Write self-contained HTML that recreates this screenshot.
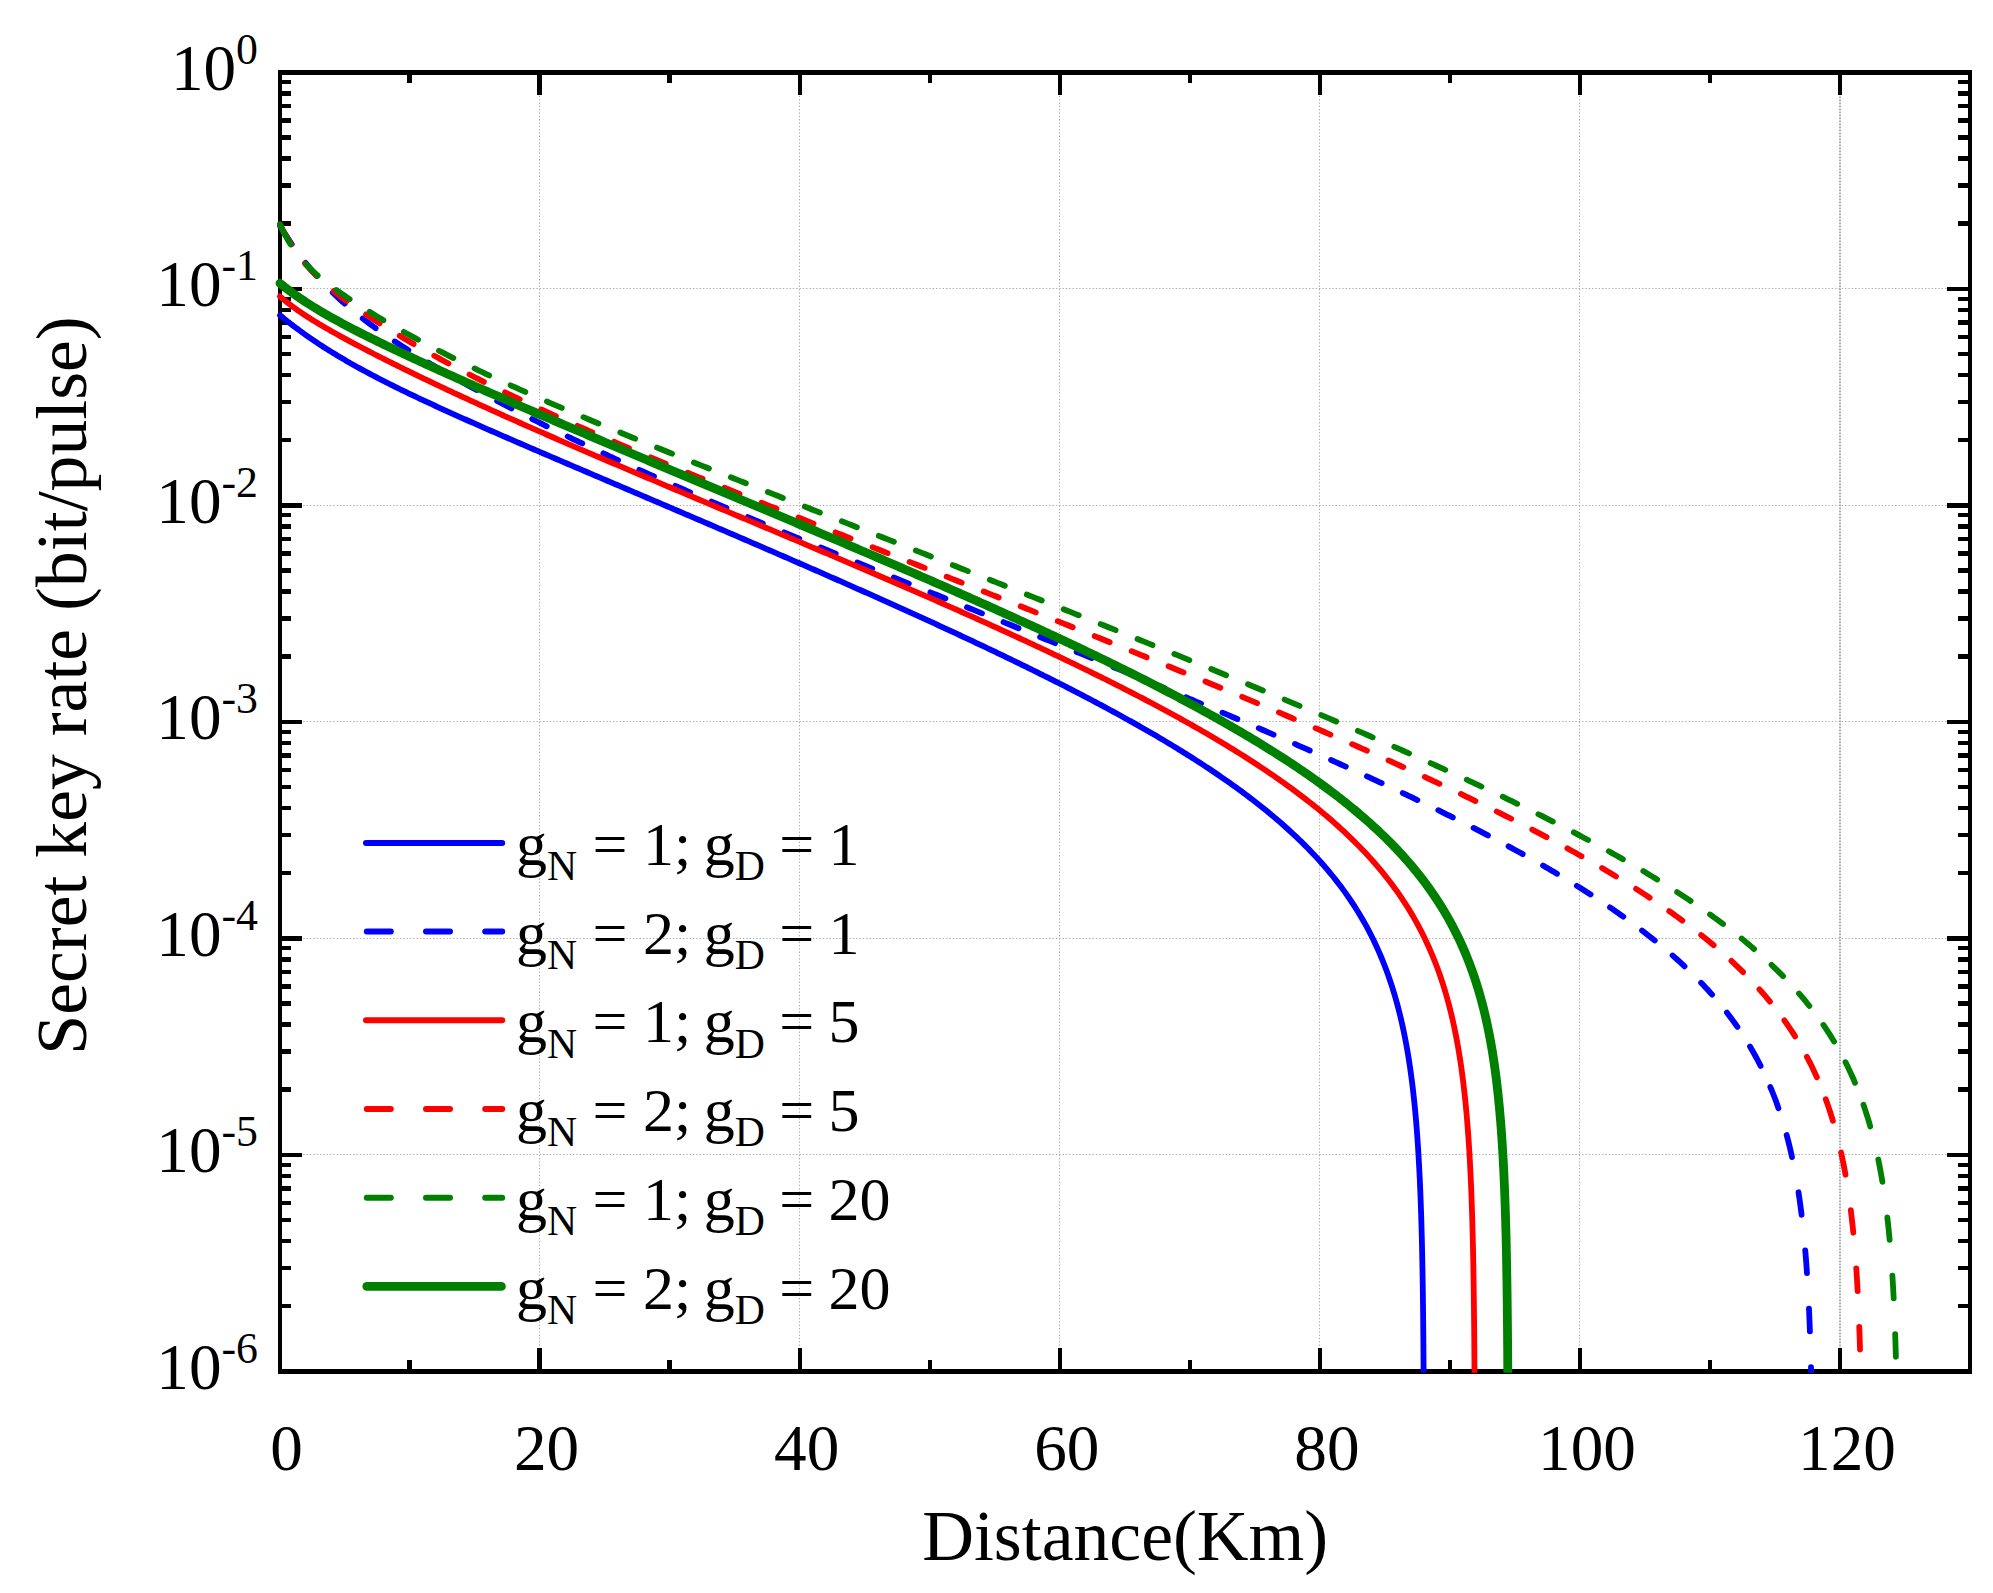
<!DOCTYPE html>
<html lang="en"><head><meta charset="utf-8"><title>Secret key rate vs distance</title>
<style>html,body{margin:0;padding:0;background:#fff}svg{display:block}</style></head>
<body>
<svg width="1993" height="1593" viewBox="0 0 1993 1593" font-family="'Liberation Serif', serif" fill="#000">
<rect width="1993" height="1593" fill="#fff"/>
<g stroke="#adadad" stroke-width="1" stroke-dasharray="1.4 1.93" fill="none">
<line x1="539.5" y1="72.45" x2="539.5" y2="1371.5"/>
<line x1="799.5" y1="72.45" x2="799.5" y2="1371.5"/>
<line x1="1059.5" y1="72.45" x2="1059.5" y2="1371.5"/>
<line x1="1319.5" y1="72.45" x2="1319.5" y2="1371.5"/>
<line x1="1579.5" y1="72.45" x2="1579.5" y2="1371.5"/>
<line x1="1840" y1="72.45" x2="1840" y2="1371.5" stroke-width="2" stroke-dasharray="1.7 1.3"/>
<line x1="280.0" y1="288.5" x2="1970.1" y2="288.5"/>
<line x1="280.0" y1="505.5" x2="1970.1" y2="505.5"/>
<line x1="280.0" y1="721.5" x2="1970.1" y2="721.5"/>
<line x1="280.0" y1="938.5" x2="1970.1" y2="938.5"/>
<line x1="280.0" y1="1154.5" x2="1970.1" y2="1154.5"/>
</g>
<rect x="280.0" y="72.45" width="1690.1" height="1299.0" fill="none" stroke="#000" stroke-width="4.3" shape-rendering="crispEdges"/>
<g stroke="#000" stroke-width="4.4" fill="none" shape-rendering="crispEdges">
<line x1="409.5" y1="1371.5" x2="409.5" y2="1359.9"/>
<line x1="409.5" y1="72.45" x2="409.5" y2="83.0"/>
<line x1="539.6" y1="1371.5" x2="539.6" y2="1348.3"/>
<line x1="539.6" y1="72.45" x2="539.6" y2="94.7"/>
<line x1="669.6" y1="1371.5" x2="669.6" y2="1359.9"/>
<line x1="669.6" y1="72.45" x2="669.6" y2="83.0"/>
<line x1="799.7" y1="1371.5" x2="799.7" y2="1348.3"/>
<line x1="799.7" y1="72.45" x2="799.7" y2="94.7"/>
<line x1="929.7" y1="1371.5" x2="929.7" y2="1359.9"/>
<line x1="929.7" y1="72.45" x2="929.7" y2="83.0"/>
<line x1="1059.8" y1="1371.5" x2="1059.8" y2="1348.3"/>
<line x1="1059.8" y1="72.45" x2="1059.8" y2="94.7"/>
<line x1="1189.8" y1="1371.5" x2="1189.8" y2="1359.9"/>
<line x1="1189.8" y1="72.45" x2="1189.8" y2="83.0"/>
<line x1="1319.9" y1="1371.5" x2="1319.9" y2="1348.3"/>
<line x1="1319.9" y1="72.45" x2="1319.9" y2="94.7"/>
<line x1="1449.9" y1="1371.5" x2="1449.9" y2="1359.9"/>
<line x1="1449.9" y1="72.45" x2="1449.9" y2="83.0"/>
<line x1="1580.0" y1="1371.5" x2="1580.0" y2="1348.3"/>
<line x1="1580.0" y1="72.45" x2="1580.0" y2="94.7"/>
<line x1="1710.0" y1="1371.5" x2="1710.0" y2="1359.9"/>
<line x1="1710.0" y1="72.45" x2="1710.0" y2="83.0"/>
<line x1="1840.0" y1="1371.5" x2="1840.0" y2="1348.3"/>
<line x1="1840.0" y1="72.45" x2="1840.0" y2="94.7"/>
<line x1="280.0" y1="223.6" x2="291.0" y2="223.6"/>
<line x1="1970.1" y1="223.6" x2="1958.1" y2="223.6"/>
<line x1="280.0" y1="185.5" x2="291.0" y2="185.5"/>
<line x1="1970.1" y1="185.5" x2="1958.1" y2="185.5"/>
<line x1="280.0" y1="158.5" x2="291.0" y2="158.5"/>
<line x1="1970.1" y1="158.5" x2="1958.1" y2="158.5"/>
<line x1="280.0" y1="137.5" x2="291.0" y2="137.5"/>
<line x1="1970.1" y1="137.5" x2="1958.1" y2="137.5"/>
<line x1="280.0" y1="120.3" x2="291.0" y2="120.3"/>
<line x1="1970.1" y1="120.3" x2="1958.1" y2="120.3"/>
<line x1="280.0" y1="105.8" x2="291.0" y2="105.8"/>
<line x1="1970.1" y1="105.8" x2="1958.1" y2="105.8"/>
<line x1="280.0" y1="93.3" x2="291.0" y2="93.3"/>
<line x1="1970.1" y1="93.3" x2="1958.1" y2="93.3"/>
<line x1="280.0" y1="82.2" x2="291.0" y2="82.2"/>
<line x1="1970.1" y1="82.2" x2="1958.1" y2="82.2"/>
<line x1="280.0" y1="288.8" x2="302.0" y2="288.8"/>
<line x1="1970.1" y1="288.8" x2="1947.3" y2="288.8"/>
<line x1="280.0" y1="440.1" x2="291.0" y2="440.1"/>
<line x1="1970.1" y1="440.1" x2="1958.1" y2="440.1"/>
<line x1="280.0" y1="402.0" x2="291.0" y2="402.0"/>
<line x1="1970.1" y1="402.0" x2="1958.1" y2="402.0"/>
<line x1="280.0" y1="375.0" x2="291.0" y2="375.0"/>
<line x1="1970.1" y1="375.0" x2="1958.1" y2="375.0"/>
<line x1="280.0" y1="354.0" x2="291.0" y2="354.0"/>
<line x1="1970.1" y1="354.0" x2="1958.1" y2="354.0"/>
<line x1="280.0" y1="336.8" x2="291.0" y2="336.8"/>
<line x1="1970.1" y1="336.8" x2="1958.1" y2="336.8"/>
<line x1="280.0" y1="322.3" x2="291.0" y2="322.3"/>
<line x1="1970.1" y1="322.3" x2="1958.1" y2="322.3"/>
<line x1="280.0" y1="309.8" x2="291.0" y2="309.8"/>
<line x1="1970.1" y1="309.8" x2="1958.1" y2="309.8"/>
<line x1="280.0" y1="298.7" x2="291.0" y2="298.7"/>
<line x1="1970.1" y1="298.7" x2="1958.1" y2="298.7"/>
<line x1="280.0" y1="505.3" x2="302.0" y2="505.3"/>
<line x1="1970.1" y1="505.3" x2="1947.3" y2="505.3"/>
<line x1="280.0" y1="656.6" x2="291.0" y2="656.6"/>
<line x1="1970.1" y1="656.6" x2="1958.1" y2="656.6"/>
<line x1="280.0" y1="618.5" x2="291.0" y2="618.5"/>
<line x1="1970.1" y1="618.5" x2="1958.1" y2="618.5"/>
<line x1="280.0" y1="591.5" x2="291.0" y2="591.5"/>
<line x1="1970.1" y1="591.5" x2="1958.1" y2="591.5"/>
<line x1="280.0" y1="570.5" x2="291.0" y2="570.5"/>
<line x1="1970.1" y1="570.5" x2="1958.1" y2="570.5"/>
<line x1="280.0" y1="553.3" x2="291.0" y2="553.3"/>
<line x1="1970.1" y1="553.3" x2="1958.1" y2="553.3"/>
<line x1="280.0" y1="538.8" x2="291.0" y2="538.8"/>
<line x1="1970.1" y1="538.8" x2="1958.1" y2="538.8"/>
<line x1="280.0" y1="526.3" x2="291.0" y2="526.3"/>
<line x1="1970.1" y1="526.3" x2="1958.1" y2="526.3"/>
<line x1="280.0" y1="515.2" x2="291.0" y2="515.2"/>
<line x1="1970.1" y1="515.2" x2="1958.1" y2="515.2"/>
<line x1="280.0" y1="721.8" x2="302.0" y2="721.8"/>
<line x1="1970.1" y1="721.8" x2="1947.3" y2="721.8"/>
<line x1="280.0" y1="873.1" x2="291.0" y2="873.1"/>
<line x1="1970.1" y1="873.1" x2="1958.1" y2="873.1"/>
<line x1="280.0" y1="835.0" x2="291.0" y2="835.0"/>
<line x1="1970.1" y1="835.0" x2="1958.1" y2="835.0"/>
<line x1="280.0" y1="808.0" x2="291.0" y2="808.0"/>
<line x1="1970.1" y1="808.0" x2="1958.1" y2="808.0"/>
<line x1="280.0" y1="787.0" x2="291.0" y2="787.0"/>
<line x1="1970.1" y1="787.0" x2="1958.1" y2="787.0"/>
<line x1="280.0" y1="769.8" x2="291.0" y2="769.8"/>
<line x1="1970.1" y1="769.8" x2="1958.1" y2="769.8"/>
<line x1="280.0" y1="755.3" x2="291.0" y2="755.3"/>
<line x1="1970.1" y1="755.3" x2="1958.1" y2="755.3"/>
<line x1="280.0" y1="742.8" x2="291.0" y2="742.8"/>
<line x1="1970.1" y1="742.8" x2="1958.1" y2="742.8"/>
<line x1="280.0" y1="731.7" x2="291.0" y2="731.7"/>
<line x1="1970.1" y1="731.7" x2="1958.1" y2="731.7"/>
<line x1="280.0" y1="938.3" x2="302.0" y2="938.3"/>
<line x1="1970.1" y1="938.3" x2="1947.3" y2="938.3"/>
<line x1="280.0" y1="1089.6" x2="291.0" y2="1089.6"/>
<line x1="1970.1" y1="1089.6" x2="1958.1" y2="1089.6"/>
<line x1="280.0" y1="1051.5" x2="291.0" y2="1051.5"/>
<line x1="1970.1" y1="1051.5" x2="1958.1" y2="1051.5"/>
<line x1="280.0" y1="1024.5" x2="291.0" y2="1024.5"/>
<line x1="1970.1" y1="1024.5" x2="1958.1" y2="1024.5"/>
<line x1="280.0" y1="1003.5" x2="291.0" y2="1003.5"/>
<line x1="1970.1" y1="1003.5" x2="1958.1" y2="1003.5"/>
<line x1="280.0" y1="986.3" x2="291.0" y2="986.3"/>
<line x1="1970.1" y1="986.3" x2="1958.1" y2="986.3"/>
<line x1="280.0" y1="971.8" x2="291.0" y2="971.8"/>
<line x1="1970.1" y1="971.8" x2="1958.1" y2="971.8"/>
<line x1="280.0" y1="959.3" x2="291.0" y2="959.3"/>
<line x1="1970.1" y1="959.3" x2="1958.1" y2="959.3"/>
<line x1="280.0" y1="948.2" x2="291.0" y2="948.2"/>
<line x1="1970.1" y1="948.2" x2="1958.1" y2="948.2"/>
<line x1="280.0" y1="1154.8" x2="302.0" y2="1154.8"/>
<line x1="1970.1" y1="1154.8" x2="1947.3" y2="1154.8"/>
<line x1="280.0" y1="1306.1" x2="291.0" y2="1306.1"/>
<line x1="1970.1" y1="1306.1" x2="1958.1" y2="1306.1"/>
<line x1="280.0" y1="1268.0" x2="291.0" y2="1268.0"/>
<line x1="1970.1" y1="1268.0" x2="1958.1" y2="1268.0"/>
<line x1="280.0" y1="1241.0" x2="291.0" y2="1241.0"/>
<line x1="1970.1" y1="1241.0" x2="1958.1" y2="1241.0"/>
<line x1="280.0" y1="1220.0" x2="291.0" y2="1220.0"/>
<line x1="1970.1" y1="1220.0" x2="1958.1" y2="1220.0"/>
<line x1="280.0" y1="1202.8" x2="291.0" y2="1202.8"/>
<line x1="1970.1" y1="1202.8" x2="1958.1" y2="1202.8"/>
<line x1="280.0" y1="1188.3" x2="291.0" y2="1188.3"/>
<line x1="1970.1" y1="1188.3" x2="1958.1" y2="1188.3"/>
<line x1="280.0" y1="1175.8" x2="291.0" y2="1175.8"/>
<line x1="1970.1" y1="1175.8" x2="1958.1" y2="1175.8"/>
<line x1="280.0" y1="1164.7" x2="291.0" y2="1164.7"/>
<line x1="1970.1" y1="1164.7" x2="1958.1" y2="1164.7"/>
</g>
<g font-size="65.2" text-anchor="middle">
<text x="286.5" y="1469.5">0</text>
<text x="546.6" y="1469.5">20</text>
<text x="806.7" y="1469.5">40</text>
<text x="1066.8" y="1469.5">60</text>
<text x="1326.9" y="1469.5">80</text>
<text x="1587.0" y="1469.5">100</text>
<text x="1847.0" y="1469.5">120</text>
</g>
<g font-size="65.2" text-anchor="end">
<text x="258" y="89.8">10<tspan font-size="43.8" dy="-26">0</tspan></text>
<text x="258" y="306.3">10<tspan font-size="43.8" dy="-26">-1</tspan></text>
<text x="258" y="522.8">10<tspan font-size="43.8" dy="-26">-2</tspan></text>
<text x="258" y="739.3">10<tspan font-size="43.8" dy="-26">-3</tspan></text>
<text x="258" y="955.8">10<tspan font-size="43.8" dy="-26">-4</tspan></text>
<text x="258" y="1172.3">10<tspan font-size="43.8" dy="-26">-5</tspan></text>
<text x="258" y="1388.8">10<tspan font-size="43.8" dy="-26">-6</tspan></text>
</g>
<text x="1125.2" y="1560.2" font-size="71.7" text-anchor="middle">Distance(Km)</text>
<text transform="translate(85.6,685.5) rotate(-90)" font-size="71.7" text-anchor="middle">Secret key rate (bit/pulse)</text>
<clipPath id="cp"><rect x="274.0" y="72.45" width="1696.1" height="1300.2"/></clipPath>
<g fill="none" stroke-linecap="round" stroke-linejoin="round" clip-path="url(#cp)">
<path d="M280.00,315.30 L282.21,317.11 L284.43,318.90 L286.64,320.67 L288.86,322.41 L291.07,324.13 L293.29,325.83 L295.50,327.50 L297.72,329.15 L299.93,330.78 L302.15,332.39 L304.36,333.98 L306.58,335.55 L308.79,337.10 L311.01,338.63 L313.22,340.14 L315.44,341.64 L317.65,343.11 L319.87,344.57 L322.08,346.01 L324.30,347.44 L326.51,348.85 L328.72,350.24 L330.94,351.63 L333.15,352.99 L335.37,354.34 L337.58,355.68 L339.80,357.00 L342.01,358.32 L344.23,359.62 L346.44,360.90 L348.66,362.18 L350.87,363.44 L353.09,364.69 L355.30,365.94 L357.52,367.17 L359.73,368.39 L361.95,369.60 L364.16,370.80 L366.38,372.00 L368.59,373.18 L370.81,374.36 L373.02,375.52 L375.23,376.68 L377.45,377.84 L379.66,378.98 L381.88,380.12 L384.09,381.25 L386.31,382.37 L388.52,383.49 L390.74,384.60 L392.95,385.70 L395.17,386.80 L397.38,387.89 L399.60,388.98 L401.81,390.06 L404.03,391.14 L406.24,392.21 L408.46,393.27 L410.67,394.34 L412.89,395.39 L415.10,396.45 L417.31,397.50 L419.53,398.54 L421.74,399.58 L423.96,400.62 L426.17,401.65 L428.39,402.68 L430.60,403.71 L432.82,404.73 L435.03,405.75 L437.25,406.77 L439.46,407.79 L441.68,408.80 L443.89,409.81 L446.11,410.81 L448.32,411.82 L450.54,412.82 L452.75,413.82 L454.97,414.81 L457.18,415.81 L459.40,416.80 L461.61,417.79 L463.82,418.78 L466.04,419.77 L468.25,420.75 L470.47,421.73 L472.68,422.71 L474.90,423.69 L477.11,424.67 L479.33,425.65 L481.54,426.62 L483.76,427.60 L485.97,428.57 L488.19,429.54 L490.40,430.51 L492.62,431.48 L494.83,432.45 L497.05,433.42 L499.26,434.38 L501.48,435.35 L503.69,436.31 L505.91,437.27 L508.12,438.23 L510.33,439.19 L512.55,440.15 L514.76,441.11 L516.98,442.07 L519.19,443.03 L521.41,443.99 L523.62,444.94 L525.84,445.90 L528.05,446.85 L530.27,447.81 L532.48,448.76 L534.70,449.71 L536.91,450.67 L539.13,451.62 L541.34,452.57 L543.56,453.52 L545.77,454.47 L547.99,455.42 L550.20,456.37 L552.42,457.32 L554.63,458.27 L556.84,459.22 L559.06,460.17 L561.27,461.12 L563.49,462.06 L565.70,463.01 L567.92,463.96 L570.13,464.91 L572.35,465.85 L574.56,466.80 L576.78,467.74 L578.99,468.69 L581.21,469.64 L583.42,470.58 L585.64,471.53 L587.85,472.47 L590.07,473.42 L592.28,474.36 L594.50,475.31 L596.71,476.25 L598.92,477.20 L601.14,478.14 L603.35,479.09 L605.57,480.03 L607.78,480.98 L610.00,481.92 L612.21,482.87 L614.43,483.81 L616.64,484.75 L618.86,485.70 L621.07,486.64 L623.29,487.59 L625.50,488.53 L627.72,489.48 L629.93,490.42 L632.15,491.37 L634.36,492.31 L636.58,493.25 L638.79,494.20 L641.01,495.14 L643.22,496.09 L645.43,497.03 L647.65,497.98 L649.86,498.92 L652.08,499.87 L654.29,500.81 L656.51,501.76 L658.72,502.70 L660.94,503.65 L663.15,504.59 L665.37,505.54 L667.58,506.49 L669.80,507.43 L672.01,508.38 L674.23,509.32 L676.44,510.27 L678.66,511.22 L680.87,512.16 L683.09,513.11 L685.30,514.06 L687.52,515.01 L689.73,515.95 L691.94,516.90 L694.16,517.85 L696.37,518.80 L698.59,519.75 L700.80,520.70 L703.02,521.64 L705.23,522.59 L707.45,523.54 L709.66,524.49 L711.88,525.44 L714.09,526.39 L716.31,527.34 L718.52,528.29 L720.74,529.24 L722.95,530.20 L725.17,531.15 L727.38,532.10 L729.60,533.05 L731.81,534.00 L734.03,534.96 L736.24,535.91 L738.45,536.86 L740.67,537.82 L742.88,538.77 L745.10,539.73 L747.31,540.68 L749.53,541.64 L751.74,542.59 L753.96,543.55 L756.17,544.50 L758.39,545.46 L760.60,546.42 L762.82,547.37 L765.03,548.33 L767.25,549.29 L769.46,550.25 L771.68,551.21 L773.89,552.17 L776.11,553.13 L778.32,554.09 L780.54,555.05 L782.75,556.01 L784.96,556.97 L787.18,557.94 L789.39,558.90 L791.61,559.86 L793.82,560.83 L796.04,561.79 L798.25,562.76 L800.47,563.72 L802.68,564.69 L804.90,565.65 L807.11,566.62 L809.33,567.59 L811.54,568.56 L813.76,569.53 L815.97,570.49 L818.19,571.46 L820.40,572.44 L822.62,573.41 L824.83,574.38 L827.04,575.35 L829.26,576.32 L831.47,577.30 L833.69,578.27 L835.90,579.25 L838.12,580.22 L840.33,581.20 L842.55,582.18 L844.76,583.15 L846.98,584.13 L849.19,585.11 L851.41,586.09 L853.62,587.07 L855.84,588.05 L858.05,589.03 L860.27,590.02 L862.48,591.00 L864.70,591.99 L866.91,592.97 L869.13,593.96 L871.34,594.94 L873.55,595.93 L875.77,596.92 L877.98,597.91 L880.20,598.90 L882.41,599.89 L884.63,600.88 L886.84,601.88 L889.06,602.87 L891.27,603.87 L893.49,604.86 L895.70,605.86 L897.92,606.86 L900.13,607.86 L902.35,608.86 L904.56,609.86 L906.78,610.86 L908.99,611.86 L911.21,612.87 L913.42,613.87 L915.64,614.88 L917.85,615.88 L920.06,616.89 L922.28,617.90 L924.49,618.91 L926.71,619.92 L928.92,620.94 L931.14,621.95 L933.35,622.97 L935.57,623.98 L937.78,625.00 L940.00,626.02 L942.21,627.04 L944.43,628.06 L946.64,629.09 L948.86,630.11 L951.07,631.14 L953.29,632.16 L955.50,633.19 L957.72,634.22 L959.93,635.25 L962.15,636.29 L964.36,637.32 L966.57,638.36 L968.79,639.39 L971.00,640.43 L973.22,641.47 L975.43,642.52 L977.65,643.56 L979.86,644.60 L982.08,645.65 L984.29,646.70 L986.51,647.75 L988.72,648.80 L990.94,649.85 L993.15,650.91 L995.37,651.97 L997.58,653.03 L999.80,654.09 L1002.01,655.15 L1004.23,656.21 L1006.44,657.28 L1008.65,658.35 L1010.87,659.42 L1013.08,660.49 L1015.30,661.57 L1017.51,662.64 L1019.73,663.72 L1021.94,664.80 L1024.16,665.89 L1026.37,666.97 L1028.59,668.06 L1030.80,669.15 L1033.02,670.24 L1035.23,671.33 L1037.45,672.43 L1039.66,673.53 L1041.88,674.63 L1044.09,675.73 L1046.31,676.84 L1048.52,677.95 L1050.74,679.06 L1052.95,680.17 L1055.16,681.29 L1057.38,682.41 L1059.59,683.53 L1061.81,684.65 L1064.02,685.78 L1066.24,686.91 L1068.45,688.05 L1070.67,689.18 L1072.88,690.32 L1075.10,691.46 L1077.31,692.61 L1079.53,693.76 L1081.74,694.91 L1083.96,696.06 L1086.17,697.22 L1088.39,698.38 L1090.60,699.55 L1092.82,700.71 L1095.03,701.89 L1097.25,703.06 L1099.46,704.24 L1101.67,705.42 L1103.89,706.61 L1106.10,707.80 L1108.32,708.99 L1110.53,710.19 L1112.75,711.39 L1114.96,712.60 L1117.18,713.81 L1119.39,715.02 L1121.61,716.24 L1123.82,717.46 L1126.04,718.69 L1128.25,719.92 L1130.47,721.15 L1132.68,722.39 L1134.90,723.64 L1137.11,724.89 L1139.33,726.14 L1141.54,727.40 L1143.76,728.67 L1145.97,729.94 L1148.18,731.21 L1150.40,732.49 L1152.61,733.78 L1154.83,735.07 L1157.04,736.37 L1159.26,737.67 L1161.47,738.98 L1163.69,740.30 L1165.90,741.62 L1168.12,742.94 L1170.33,744.28 L1172.55,745.62 L1174.76,746.96 L1176.98,748.32 L1179.19,749.68 L1181.41,751.04 L1183.62,752.42 L1185.84,753.80 L1188.05,755.19 L1190.27,756.58 L1192.48,757.99 L1194.69,759.40 L1196.91,760.82 L1199.12,762.24 L1201.34,763.68 L1203.55,765.13 L1205.77,766.58 L1207.98,768.04 L1210.20,769.51 L1212.41,770.99 L1214.63,772.48 L1216.84,773.98 L1219.06,775.49 L1221.27,777.02 L1223.49,778.55 L1225.70,780.09 L1227.92,781.64 L1230.13,783.20 L1232.35,784.78 L1234.56,786.37 L1236.77,787.97 L1238.99,789.58 L1241.20,791.20 L1243.42,792.84 L1245.63,794.49 L1247.85,796.16 L1250.06,797.83 L1252.28,799.53 L1254.49,801.24 L1256.71,802.96 L1258.92,804.70 L1261.14,806.45 L1263.35,808.23 L1265.57,810.01 L1267.78,811.82 L1270.00,813.65 L1272.21,815.49 L1274.43,817.35 L1276.64,819.23 L1278.86,821.14 L1281.07,823.06 L1283.28,825.01 L1285.50,826.98 L1287.71,828.97 L1289.93,830.98 L1292.14,833.02 L1294.36,835.09 L1296.57,837.18 L1298.79,839.30 L1301.00,841.45 L1303.22,843.63 L1305.43,845.84 L1307.65,848.08 L1309.86,850.36 L1312.08,852.67 L1314.29,855.01 L1316.51,857.39 L1318.72,859.82 L1320.94,862.28 L1323.15,864.78 L1325.37,867.33 L1327.58,869.93 L1329.79,872.57 L1332.01,875.27 L1334.22,878.02 L1336.44,880.83 L1338.65,883.69 L1340.87,886.62 L1343.08,889.61 L1345.30,892.67 L1347.51,895.81 L1349.73,899.02 L1351.94,902.32 L1354.16,905.70 L1356.37,909.18 L1358.59,912.76 L1360.80,916.44 L1363.02,920.24 L1365.23,924.16 L1367.45,928.21 L1369.66,932.41 L1371.88,936.76 L1374.09,941.27 L1376.30,945.97 L1378.52,950.88 L1380.73,956.00 L1382.95,961.37 L1385.16,967.00 L1385.16,967.00 L1386.58,970.76 L1387.94,974.50 L1389.25,978.23 L1390.52,981.96 L1391.74,985.67 L1392.91,989.38 L1394.04,993.07 L1395.14,996.76 L1396.19,1000.44 L1397.20,1004.11 L1398.18,1007.78 L1399.12,1011.43 L1400.03,1015.08 L1400.90,1018.73 L1401.75,1022.36 L1402.56,1026.00 L1403.34,1029.62 L1404.10,1033.24 L1404.82,1036.85 L1405.52,1040.46 L1406.20,1044.07 L1406.85,1047.66 L1407.48,1051.26 L1408.08,1054.85 L1408.67,1058.43 L1409.23,1062.01 L1409.77,1065.59 L1410.29,1069.16 L1410.79,1072.73 L1411.28,1076.30 L1411.75,1079.86 L1412.20,1083.42 L1412.63,1086.97 L1413.05,1090.52 L1413.45,1094.07 L1413.84,1097.62 L1414.21,1101.16 L1414.57,1104.70 L1414.92,1108.24 L1415.26,1111.77 L1415.58,1115.31 L1415.89,1118.84 L1416.19,1122.37 L1416.48,1125.89 L1416.76,1129.42 L1417.03,1132.94 L1417.28,1136.46 L1417.53,1139.98 L1417.77,1143.49 L1418.01,1147.01 L1418.23,1150.52 L1418.44,1154.03 L1418.65,1157.54 L1418.85,1161.05 L1419.04,1164.56 L1419.23,1168.07 L1419.41,1171.57 L1419.58,1175.07 L1419.75,1178.58 L1419.91,1182.08 L1420.06,1185.58 L1420.21,1189.07 L1420.35,1192.57 L1420.49,1196.07 L1420.62,1199.56 L1420.75,1203.06 L1420.88,1206.55 L1420.99,1210.04 L1421.11,1213.54 L1421.22,1217.03 L1421.33,1220.52 L1421.43,1224.01 L1421.53,1227.50 L1421.62,1230.98 L1421.72,1234.47 L1421.81,1237.96 L1421.89,1241.44 L1421.97,1244.93 L1422.05,1248.41 L1422.13,1251.90 L1422.20,1255.38 L1422.27,1258.87 L1422.34,1262.35 L1422.41,1265.83 L1422.47,1269.31 L1422.53,1272.79 L1422.59,1276.28 L1422.65,1279.76 L1422.70,1283.24 L1422.76,1286.72 L1422.81,1290.19 L1422.86,1293.67 L1422.90,1297.15 L1422.95,1300.63 L1422.99,1304.11 L1423.04,1307.59 L1423.08,1311.06 L1423.12,1314.54 L1423.15,1318.02 L1423.19,1321.49 L1423.23,1324.97 L1423.26,1328.45 L1423.29,1331.92 L1423.32,1335.40 L1423.36,1338.87 L1423.38,1342.35 L1423.41,1345.82 L1423.44,1349.30 L1423.47,1352.77 L1423.49,1356.25 L1423.52,1359.72 L1423.54,1363.19 L1423.56,1366.67 L1423.58,1370.14 L1423.60,1373.62 L1423.62,1377.09 L1423.64,1380.56 L1423.66,1384.03 L1423.68,1387.51 L1423.70,1390.98 L1423.72,1394.45 L1423.73,1397.93 L1423.75,1401.40" stroke="#0000ff" stroke-width="5.8"/>
<path d="M280.00,225.90 L281.62,228.53 L283.25,231.16 L284.91,233.77 L286.58,236.37 L288.27,238.95 L289.99,241.52 L291.73,244.08 M305.57,262.80 L307.72,265.48 L309.90,268.14 L312.12,270.76 L314.36,273.37 L316.63,275.95 M332.77,292.73 L335.11,294.97 L337.47,297.18 L339.86,299.38 L342.27,301.55 L344.69,303.69 M362.67,318.49 L365.24,320.46 L367.82,322.42 L370.41,324.36 L373.02,326.29 L375.64,328.19 M394.79,341.44 L397.49,343.22 L400.20,345.00 L402.92,346.76 L405.64,348.52 L408.38,350.26 M428.20,362.47 L430.98,364.13 L433.77,365.79 L436.56,367.43 L439.35,369.07 L442.15,370.70 M462.39,382.22 L465.22,383.79 L468.06,385.36 L470.90,386.92 L473.74,388.48 L476.58,390.03 M497.11,401.02 L499.98,402.53 L502.85,404.03 L505.72,405.53 L508.60,407.02 L511.47,408.51 M532.22,419.08 L535.12,420.53 L538.02,421.98 L540.92,423.42 L543.82,424.86 L546.73,426.30 M567.66,436.50 L570.58,437.91 L573.50,439.31 L576.42,440.70 L579.35,442.10 L582.27,443.49 M603.35,453.39 L606.29,454.75 L609.23,456.11 L612.17,457.47 L615.11,458.82 L618.06,460.18 M639.25,469.82 L642.21,471.15 L645.16,472.47 L648.12,473.80 L651.08,475.12 L654.04,476.44 M675.33,485.86 L678.30,487.17 L681.26,488.47 L684.23,489.76 L687.20,491.06 L690.17,492.36 M711.54,501.60 L714.52,502.88 L717.50,504.16 L720.47,505.43 L723.45,506.71 L726.43,507.98 M747.86,517.09 L750.85,518.35 L753.83,519.61 L756.82,520.86 L759.81,522.12 L762.79,523.38 M784.27,532.37 L787.26,533.62 L790.25,534.86 L793.24,536.11 L796.23,537.35 L799.23,538.60 M820.74,547.50 L823.74,548.74 L826.73,549.98 L829.73,551.21 L832.72,552.44 L835.72,553.68 M857.26,562.52 L860.26,563.75 L863.25,564.98 L866.25,566.21 L869.25,567.44 L872.25,568.66 M893.81,577.47 L896.81,578.69 L899.81,579.91 L902.81,581.14 L905.81,582.36 L908.81,583.58 M930.37,592.36 L933.38,593.58 L936.38,594.80 L939.38,596.02 L942.38,597.24 L945.38,598.46 M966.95,607.23 L969.95,608.45 L972.95,609.67 L975.96,610.89 L978.96,612.11 L981.96,613.33 M1003.53,622.10 L1006.53,623.33 L1009.53,624.55 L1012.53,625.77 L1015.53,626.99 L1018.53,628.21 M1040.09,637.00 L1043.09,638.23 L1046.09,639.45 L1049.09,640.68 L1052.09,641.90 L1055.09,643.13 M1076.64,651.95 L1079.64,653.18 L1082.64,654.41 L1085.63,655.64 L1088.63,656.87 L1091.63,658.10 M1113.16,666.96 L1116.16,668.20 L1119.15,669.43 L1122.15,670.67 L1125.14,671.91 L1128.13,673.15 M1149.64,682.07 L1152.63,683.31 L1155.62,684.56 L1158.62,685.80 L1161.61,687.05 L1164.60,688.30 M1186.07,697.29 L1189.06,698.55 L1192.05,699.80 L1195.03,701.06 L1198.02,702.32 L1201.00,703.58 M1222.44,712.66 L1225.43,713.93 L1228.41,715.20 L1231.39,716.47 L1234.37,717.74 L1237.35,719.02 M1258.74,728.21 L1261.71,729.49 L1264.69,730.78 L1267.66,732.07 L1270.63,733.36 L1273.61,734.65 M1294.94,743.97 L1297.91,745.28 L1300.87,746.58 L1303.84,747.89 L1306.80,749.20 L1309.76,750.51 M1331.03,760.00 L1333.99,761.32 L1336.94,762.65 L1339.89,763.99 L1342.85,765.32 L1345.80,766.66 M1366.98,776.33 L1369.92,777.69 L1372.86,779.05 L1375.80,780.41 L1378.74,781.77 L1381.68,783.14 M1402.75,793.05 L1405.68,794.44 L1408.60,795.83 L1411.52,797.23 L1414.45,798.63 L1417.37,800.03 M1438.30,810.22 L1441.21,811.65 L1444.11,813.09 L1447.02,814.53 L1449.92,815.97 L1452.82,817.42 M1473.59,827.95 L1476.47,829.43 L1479.34,830.92 L1482.22,832.41 L1485.09,833.91 L1487.96,835.41 M1508.52,846.35 L1511.37,847.90 L1514.21,849.45 L1517.05,851.00 L1519.89,852.56 L1522.73,854.13 M1543.00,865.59 L1545.80,867.21 L1548.61,868.84 L1551.40,870.47 L1554.20,872.11 L1556.98,873.76 M1576.89,885.84 L1579.64,887.56 L1582.38,889.28 L1585.12,891.02 L1587.85,892.76 L1590.58,894.51 M1609.99,907.37 L1612.66,909.20 L1615.33,911.04 L1617.98,912.89 L1620.63,914.76 L1623.28,916.63 M1642.02,930.45 L1644.58,932.43 L1647.14,934.42 L1649.69,936.42 L1652.23,938.43 L1654.76,940.45 M1672.57,955.45 L1675.00,957.60 L1677.41,959.76 L1679.81,961.94 L1682.19,964.13 L1684.56,966.34 M1701.10,982.73 L1703.33,985.07 L1705.55,987.44 L1707.74,989.83 L1709.91,992.23 L1712.06,994.65 M1726.90,1012.59 L1729.07,1015.41 L1731.20,1018.26 L1733.30,1021.13 L1735.38,1024.01 L1737.42,1026.92 M1750.01,1046.51 L1751.60,1049.23 L1753.18,1051.96 L1754.71,1054.72 L1756.24,1057.48 L1757.71,1060.26 L1759.19,1063.05 L1760.61,1065.87 M1770.35,1087.01 L1771.61,1090.00 L1772.80,1093.01 L1774.00,1096.03 L1775.16,1099.06 L1776.29,1102.10 L1777.39,1105.15 L1778.47,1108.20 M1786.67,1135.02 L1787.50,1138.15 L1788.31,1141.29 L1789.10,1144.44 L1789.86,1147.59 L1790.60,1150.75 L1791.32,1153.91 L1792.02,1157.07 M1798.50,1192.28 L1798.98,1195.48 L1799.45,1198.69 L1799.90,1201.90 L1800.35,1205.12 L1800.77,1208.33 L1801.19,1211.55 L1801.59,1214.77 M1805.24,1250.38 L1805.52,1253.61 L1805.78,1256.84 L1806.03,1260.07 L1806.28,1263.31 L1806.51,1266.54 L1806.74,1269.78 L1806.96,1273.01 M1808.98,1308.75 L1809.12,1311.99 L1809.27,1315.23 L1809.40,1318.47 L1809.54,1321.71 L1809.67,1324.95 L1809.79,1328.19 L1809.91,1331.43 M1811.01,1367.22 L1811.09,1370.46 L1811.16,1373.70 L1811.24,1376.94 L1811.31,1380.19 L1811.38,1383.43 L1811.45,1386.67 L1811.51,1389.91" stroke="#0000ff" stroke-width="5.8"/>
<path d="M280.00,296.43 L282.32,298.43 L284.63,300.36 L286.95,302.23 L289.27,304.04 L291.58,305.80 L293.90,307.51 L296.22,309.18 L298.53,310.81 L300.85,312.41 L303.17,313.97 L305.48,315.50 L307.80,317.00 L310.12,318.47 L312.43,319.93 L314.75,321.36 L317.07,322.77 L319.38,324.17 L321.70,325.54 L324.02,326.91 L326.33,328.25 L328.65,329.59 L330.97,330.91 L333.28,332.22 L335.60,333.52 L337.92,334.81 L340.24,336.09 L342.55,337.36 L344.87,338.62 L347.19,339.88 L349.50,341.13 L351.82,342.37 L354.14,343.60 L356.45,344.83 L358.77,346.05 L361.09,347.27 L363.40,348.48 L365.72,349.69 L368.04,350.89 L370.35,352.09 L372.67,353.28 L374.99,354.46 L377.30,355.65 L379.62,356.82 L381.94,358.00 L384.25,359.17 L386.57,360.33 L388.89,361.50 L391.20,362.65 L393.52,363.81 L395.84,364.96 L398.15,366.11 L400.47,367.25 L402.79,368.39 L405.10,369.53 L407.42,370.67 L409.74,371.80 L412.05,372.93 L414.37,374.05 L416.69,375.17 L419.00,376.29 L421.32,377.41 L423.64,378.52 L425.95,379.64 L428.27,380.74 L430.59,381.85 L432.90,382.95 L435.22,384.05 L437.54,385.15 L439.85,386.25 L442.17,387.34 L444.49,388.43 L446.80,389.52 L449.12,390.60 L451.44,391.69 L453.76,392.77 L456.07,393.85 L458.39,394.92 L460.71,396.00 L463.02,397.07 L465.34,398.14 L467.66,399.21 L469.97,400.27 L472.29,401.34 L474.61,402.40 L476.92,403.46 L479.24,404.52 L481.56,405.57 L483.87,406.63 L486.19,407.68 L488.51,408.73 L490.82,409.78 L493.14,410.83 L495.46,411.87 L497.77,412.92 L500.09,413.96 L502.41,415.00 L504.72,416.04 L507.04,417.07 L509.36,418.11 L511.67,419.14 L513.99,420.18 L516.31,421.21 L518.62,422.24 L520.94,423.26 L523.26,424.29 L525.57,425.32 L527.89,426.34 L530.21,427.36 L532.52,428.38 L534.84,429.40 L537.16,430.42 L539.47,431.44 L541.79,432.45 L544.11,433.47 L546.42,434.48 L548.74,435.50 L551.06,436.51 L553.37,437.52 L555.69,438.53 L558.01,439.54 L560.32,440.54 L562.64,441.55 L564.96,442.55 L567.28,443.56 L569.59,444.56 L571.91,445.56 L574.23,446.56 L576.54,447.56 L578.86,448.56 L581.18,449.56 L583.49,450.56 L585.81,451.56 L588.13,452.55 L590.44,453.55 L592.76,454.54 L595.08,455.54 L597.39,456.53 L599.71,457.52 L602.03,458.51 L604.34,459.50 L606.66,460.49 L608.98,461.48 L611.29,462.47 L613.61,463.46 L615.93,464.45 L618.24,465.43 L620.56,466.42 L622.88,467.41 L625.19,468.39 L627.51,469.38 L629.83,470.36 L632.14,471.34 L634.46,472.33 L636.78,473.31 L639.09,474.29 L641.41,475.27 L643.73,476.25 L646.04,477.23 L648.36,478.22 L650.68,479.20 L652.99,480.17 L655.31,481.15 L657.63,482.13 L659.94,483.11 L662.26,484.09 L664.58,485.07 L666.89,486.05 L669.21,487.02 L671.53,488.00 L673.84,488.98 L676.16,489.95 L678.48,490.93 L680.80,491.91 L683.11,492.88 L685.43,493.86 L687.75,494.83 L690.06,495.81 L692.38,496.78 L694.70,497.76 L697.01,498.73 L699.33,499.71 L701.65,500.68 L703.96,501.66 L706.28,502.63 L708.60,503.61 L710.91,504.58 L713.23,505.55 L715.55,506.53 L717.86,507.50 L720.18,508.48 L722.50,509.45 L724.81,510.43 L727.13,511.40 L729.45,512.37 L731.76,513.35 L734.08,514.32 L736.40,515.30 L738.71,516.27 L741.03,517.25 L743.35,518.22 L745.66,519.19 L747.98,520.17 L750.30,521.14 L752.61,522.12 L754.93,523.09 L757.25,524.07 L759.56,525.05 L761.88,526.02 L764.20,527.00 L766.51,527.97 L768.83,528.95 L771.15,529.92 L773.46,530.90 L775.78,531.88 L778.10,532.86 L780.41,533.83 L782.73,534.81 L785.05,535.79 L787.36,536.77 L789.68,537.74 L792.00,538.72 L794.32,539.70 L796.63,540.68 L798.95,541.66 L801.27,542.64 L803.58,543.62 L805.90,544.60 L808.22,545.58 L810.53,546.57 L812.85,547.55 L815.17,548.53 L817.48,549.51 L819.80,550.50 L822.12,551.48 L824.43,552.46 L826.75,553.45 L829.07,554.43 L831.38,555.42 L833.70,556.40 L836.02,557.39 L838.33,558.38 L840.65,559.37 L842.97,560.35 L845.28,561.34 L847.60,562.33 L849.92,563.32 L852.23,564.31 L854.55,565.30 L856.87,566.29 L859.18,567.29 L861.50,568.28 L863.82,569.27 L866.13,570.27 L868.45,571.26 L870.77,572.26 L873.08,573.25 L875.40,574.25 L877.72,575.25 L880.03,576.25 L882.35,577.25 L884.67,578.24 L886.98,579.25 L889.30,580.25 L891.62,581.25 L893.93,582.25 L896.25,583.26 L898.57,584.26 L900.88,585.27 L903.20,586.27 L905.52,587.28 L907.84,588.29 L910.15,589.30 L912.47,590.30 L914.79,591.32 L917.10,592.33 L919.42,593.34 L921.74,594.35 L924.05,595.37 L926.37,596.38 L928.69,597.40 L931.00,598.42 L933.32,599.44 L935.64,600.45 L937.95,601.48 L940.27,602.50 L942.59,603.52 L944.90,604.54 L947.22,605.57 L949.54,606.59 L951.85,607.62 L954.17,608.65 L956.49,609.68 L958.80,610.71 L961.12,611.74 L963.44,612.78 L965.75,613.81 L968.07,614.85 L970.39,615.88 L972.70,616.92 L975.02,617.96 L977.34,619.00 L979.65,620.05 L981.97,621.09 L984.29,622.14 L986.60,623.18 L988.92,624.23 L991.24,625.28 L993.55,626.33 L995.87,627.38 L998.19,628.44 L1000.50,629.49 L1002.82,630.55 L1005.14,631.61 L1007.45,632.67 L1009.77,633.73 L1012.09,634.80 L1014.41,635.86 L1016.72,636.93 L1019.04,638.00 L1021.36,639.07 L1023.67,640.14 L1025.99,641.22 L1028.31,642.29 L1030.62,643.37 L1032.94,644.45 L1035.26,645.53 L1037.57,646.62 L1039.89,647.70 L1042.21,648.79 L1044.52,649.88 L1046.84,650.97 L1049.16,652.06 L1051.47,653.16 L1053.79,654.26 L1056.11,655.36 L1058.42,656.46 L1060.74,657.57 L1063.06,658.67 L1065.37,659.78 L1067.69,660.89 L1070.01,662.01 L1072.32,663.13 L1074.64,664.24 L1076.96,665.37 L1079.27,666.49 L1081.59,667.62 L1083.91,668.74 L1086.22,669.88 L1088.54,671.01 L1090.86,672.15 L1093.17,673.29 L1095.49,674.43 L1097.81,675.57 L1100.12,676.72 L1102.44,677.87 L1104.76,679.03 L1107.07,680.19 L1109.39,681.35 L1111.71,682.51 L1114.02,683.67 L1116.34,684.84 L1118.66,686.02 L1120.97,687.19 L1123.29,688.37 L1125.61,689.55 L1127.93,690.74 L1130.24,691.93 L1132.56,693.12 L1134.88,694.32 L1137.19,695.52 L1139.51,696.73 L1141.83,697.93 L1144.14,699.15 L1146.46,700.36 L1148.78,701.58 L1151.09,702.81 L1153.41,704.03 L1155.73,705.27 L1158.04,706.50 L1160.36,707.74 L1162.68,708.99 L1164.99,710.24 L1167.31,711.49 L1169.63,712.75 L1171.94,714.01 L1174.26,715.28 L1176.58,716.56 L1178.89,717.83 L1181.21,719.12 L1183.53,720.41 L1185.84,721.70 L1188.16,723.00 L1190.48,724.30 L1192.79,725.61 L1195.11,726.93 L1197.43,728.25 L1199.74,729.58 L1202.06,730.91 L1204.38,732.25 L1206.69,733.60 L1209.01,734.95 L1211.33,736.31 L1213.64,737.67 L1215.96,739.04 L1218.28,740.42 L1220.59,741.80 L1222.91,743.20 L1225.23,744.60 L1227.54,746.00 L1229.86,747.42 L1232.18,748.84 L1234.49,750.27 L1236.81,751.71 L1239.13,753.15 L1241.45,754.61 L1243.76,756.07 L1246.08,757.54 L1248.40,759.02 L1250.71,760.51 L1253.03,762.01 L1255.35,763.52 L1257.66,765.04 L1259.98,766.57 L1262.30,768.11 L1264.61,769.65 L1266.93,771.21 L1269.25,772.78 L1271.56,774.37 L1273.88,775.96 L1276.20,777.56 L1278.51,779.18 L1280.83,780.81 L1283.15,782.45 L1285.46,784.11 L1287.78,785.78 L1290.10,787.46 L1292.41,789.15 L1294.73,790.86 L1297.05,792.59 L1299.36,794.33 L1301.68,796.09 L1304.00,797.86 L1306.31,799.65 L1308.63,801.45 L1310.95,803.27 L1313.26,805.12 L1315.58,806.98 L1317.90,808.85 L1320.21,810.75 L1322.53,812.67 L1324.85,814.61 L1327.16,816.57 L1329.48,818.56 L1331.80,820.56 L1334.11,822.59 L1336.43,824.65 L1338.75,826.73 L1341.06,828.84 L1343.38,830.97 L1345.70,833.14 L1348.01,835.33 L1350.33,837.55 L1352.65,839.81 L1354.97,842.09 L1357.28,844.42 L1359.60,846.77 L1361.92,849.17 L1364.23,851.60 L1366.55,854.07 L1368.87,856.59 L1371.18,859.15 L1373.50,861.76 L1375.82,864.41 L1378.13,867.12 L1380.45,869.87 L1382.77,872.69 L1385.08,875.56 L1387.40,878.49 L1389.72,881.49 L1392.03,884.56 L1394.35,887.70 L1396.67,890.91 L1398.98,894.21 L1401.30,897.59 L1403.62,901.07 L1405.93,904.65 L1408.25,908.32 L1410.57,912.12 L1412.88,916.03 L1415.20,920.07 L1417.52,924.25 L1419.83,928.59 L1422.15,933.09 L1424.47,937.76 L1426.78,942.64 L1429.10,947.73 L1431.42,953.06 L1433.73,958.66 L1436.05,964.55 L1436.05,964.55 L1437.46,968.30 L1438.83,972.04 L1440.14,975.77 L1441.40,979.50 L1442.62,983.21 L1443.80,986.92 L1444.93,990.61 L1446.02,994.30 L1447.08,997.98 L1448.09,1001.65 L1449.07,1005.31 L1450.01,1008.97 L1450.92,1012.62 L1451.79,1016.26 L1452.63,1019.90 L1453.45,1023.53 L1454.23,1027.16 L1454.98,1030.78 L1455.71,1034.39 L1456.41,1038.00 L1457.09,1041.60 L1457.74,1045.20 L1458.37,1048.79 L1458.97,1052.38 L1459.55,1055.97 L1460.11,1059.55 L1460.66,1063.13 L1461.18,1066.70 L1461.68,1070.27 L1462.17,1073.83 L1462.63,1077.39 L1463.08,1080.95 L1463.52,1084.51 L1463.93,1088.06 L1464.34,1091.61 L1464.73,1095.15 L1465.10,1098.70 L1465.46,1102.24 L1465.81,1105.77 L1466.14,1109.31 L1466.47,1112.84 L1466.78,1116.37 L1467.08,1119.90 L1467.37,1123.43 L1467.64,1126.95 L1467.91,1130.47 L1468.17,1133.99 L1468.42,1137.51 L1468.66,1141.03 L1468.89,1144.54 L1469.12,1148.06 L1469.33,1151.57 L1469.54,1155.08 L1469.74,1158.59 L1469.93,1162.09 L1470.12,1165.60 L1470.29,1169.11 L1470.47,1172.61 L1470.63,1176.11 L1470.79,1179.61 L1470.95,1183.11 L1471.10,1186.61 L1471.24,1190.11 L1471.38,1193.60 L1471.51,1197.10 L1471.64,1200.59 L1471.76,1204.09 L1471.88,1207.58 L1472.00,1211.07 L1472.11,1214.56 L1472.21,1218.05 L1472.32,1221.54 L1472.42,1225.03 L1472.51,1228.52 L1472.60,1232.01 L1472.69,1235.49 L1472.78,1238.98 L1472.86,1242.46 L1472.94,1245.95 L1473.02,1249.43 L1473.09,1252.92 L1473.16,1256.40 L1473.23,1259.88 L1473.30,1263.37 L1473.36,1266.85 L1473.42,1270.33 L1473.48,1273.81 L1473.54,1277.29 L1473.59,1280.77 L1473.64,1284.25 L1473.70,1287.73 L1473.74,1291.21 L1473.79,1294.69 L1473.84,1298.17 L1473.88,1301.64 L1473.92,1305.12 L1473.96,1308.60 L1474.00,1312.08 L1474.04,1315.55 L1474.08,1319.03 L1474.11,1322.51 L1474.15,1325.98 L1474.18,1329.46 L1474.21,1332.93 L1474.24,1336.41 L1474.27,1339.88 L1474.30,1343.36 L1474.33,1346.83 L1474.35,1350.31 L1474.38,1353.78 L1474.40,1357.26 L1474.43,1360.73 L1474.45,1364.20 L1474.47,1367.68 L1474.49,1371.15 L1474.51,1374.62 L1474.53,1378.10 L1474.55,1381.57 L1474.57,1385.04 L1474.59,1388.52 L1474.60,1391.99 L1474.62,1395.46 L1474.63,1398.93" stroke="#ff0000" stroke-width="5.8"/>
<path d="M280.00,224.62 L281.48,227.51 L282.96,230.39 L284.51,233.24 L286.07,236.08 L287.71,238.88 L289.37,241.67 L291.10,244.41 M305.08,263.50 L307.19,265.95 L309.35,268.37 L311.55,270.75 L313.79,273.09 L316.07,275.39 M333.75,291.13 L336.27,293.16 L338.82,295.16 L341.39,297.13 L343.98,299.09 L346.58,301.02 M365.98,314.58 L368.68,316.38 L371.39,318.16 L374.11,319.92 L376.83,321.68 L379.56,323.43 M399.71,335.86 L402.49,337.53 L405.28,339.18 L408.07,340.83 L410.86,342.46 L413.66,344.09 M434.27,355.75 L437.11,357.32 L439.95,358.88 L442.80,360.43 L445.64,361.97 L448.50,363.50 M469.46,374.53 L472.34,376.01 L475.22,377.48 L478.11,378.95 L481.00,380.42 L483.89,381.87 M505.13,392.36 L508.04,393.77 L510.96,395.17 L513.88,396.58 L516.81,397.97 L519.73,399.37 M541.18,409.41 L544.12,410.76 L547.07,412.11 L550.01,413.46 L552.96,414.80 L555.91,416.14 M577.52,425.83 L580.48,427.14 L583.44,428.45 L586.41,429.76 L589.38,431.06 L592.34,432.36 M614.07,441.77 L617.05,443.05 L620.03,444.32 L623.01,445.59 L625.99,446.87 L628.97,448.13 M650.79,457.34 L653.78,458.59 L656.77,459.84 L659.76,461.09 L662.75,462.34 L665.74,463.58 M687.62,472.64 L690.61,473.87 L693.61,475.10 L696.61,476.33 L699.60,477.56 L702.60,478.79 M724.53,487.74 L727.53,488.96 L730.53,490.18 L733.53,491.40 L736.54,492.61 L739.54,493.83 M761.50,502.70 L764.50,503.91 L767.51,505.12 L770.51,506.33 L773.52,507.54 L776.52,508.75 M798.50,517.56 L801.51,518.77 L804.52,519.97 L807.52,521.18 L810.53,522.38 L813.54,523.59 M835.53,532.37 L838.54,533.57 L841.55,534.77 L844.56,535.97 L847.57,537.17 L850.58,538.38 M872.57,547.15 L875.58,548.34 L878.59,549.54 L881.60,550.74 L884.61,551.94 L887.62,553.14 M909.62,561.91 L912.63,563.11 L915.64,564.31 L918.65,565.51 L921.66,566.71 L924.67,567.91 M946.66,576.68 L949.67,577.88 L952.68,579.08 L955.69,580.28 L958.70,581.48 L961.71,582.68 M983.70,591.47 L986.71,592.67 L989.72,593.88 L992.72,595.08 L995.73,596.28 L998.74,597.49 M1020.72,606.30 L1023.73,607.51 L1026.73,608.71 L1029.74,609.92 L1032.75,611.13 L1035.75,612.34 M1057.72,621.18 L1060.73,622.39 L1063.73,623.60 L1066.73,624.81 L1069.74,626.03 L1072.74,627.24 M1094.69,636.12 L1097.70,637.34 L1100.70,638.56 L1103.70,639.78 L1106.70,641.00 L1109.71,642.21 M1131.64,651.15 L1134.64,652.37 L1137.64,653.60 L1140.63,654.82 L1143.63,656.05 L1146.63,657.28 M1168.54,666.27 L1171.53,667.50 L1174.53,668.73 L1177.53,669.97 L1180.52,671.21 L1183.52,672.44 M1205.39,681.51 L1208.38,682.75 L1211.38,683.99 L1214.37,685.24 L1217.36,686.49 L1220.35,687.73 M1242.19,696.88 L1245.18,698.14 L1248.16,699.39 L1251.15,700.65 L1254.13,701.91 L1257.12,703.17 M1278.92,712.42 L1281.90,713.69 L1284.88,714.97 L1287.86,716.24 L1290.83,717.51 L1293.81,718.79 M1315.56,728.16 L1318.53,729.45 L1321.50,730.74 L1324.47,732.03 L1327.45,733.33 L1330.42,734.62 M1352.10,744.14 L1355.06,745.45 L1358.03,746.76 L1360.99,748.07 L1363.95,749.39 L1366.91,750.70 M1388.52,760.39 L1391.47,761.73 L1394.42,763.06 L1397.37,764.40 L1400.32,765.74 L1403.27,767.09 M1424.78,776.98 L1427.72,778.35 L1430.66,779.72 L1433.59,781.09 L1436.53,782.46 L1439.46,783.84 M1460.86,793.98 L1463.78,795.38 L1466.70,796.79 L1469.61,798.20 L1472.53,799.61 L1475.45,801.02 M1496.70,811.47 L1499.60,812.92 L1502.49,814.37 L1505.39,815.82 L1508.28,817.28 L1511.17,818.74 M1532.24,829.56 L1535.11,831.06 L1537.98,832.56 L1540.85,834.07 L1543.71,835.58 L1546.57,837.10 M1567.40,848.37 L1570.24,849.94 L1573.07,851.51 L1575.90,853.09 L1578.73,854.67 L1581.55,856.26 M1602.07,868.08 L1604.86,869.73 L1607.64,871.38 L1610.43,873.05 L1613.20,874.71 L1615.97,876.39 M1636.08,888.90 L1638.81,890.65 L1641.53,892.40 L1644.25,894.17 L1646.96,895.95 L1649.66,897.73 M1669.21,911.09 L1671.86,912.96 L1674.49,914.85 L1677.12,916.74 L1679.74,918.65 L1682.35,920.57 M1701.14,934.97 L1703.67,937.00 L1706.19,939.04 L1708.70,941.09 L1711.19,943.16 L1713.67,945.24 M1731.42,960.92 L1733.79,963.13 L1736.14,965.36 L1738.48,967.60 L1740.80,969.86 L1743.10,972.13 M1759.41,989.30 L1761.56,991.73 L1763.69,994.17 L1765.80,996.63 L1767.89,999.10 L1769.95,1001.60 M1784.35,1020.39 L1786.20,1023.02 L1788.03,1025.66 L1789.84,1028.32 L1791.61,1031.00 L1793.36,1033.70 L1795.08,1036.41 M1806.93,1056.90 L1808.45,1059.77 L1809.91,1062.66 L1811.38,1065.56 L1812.78,1068.48 L1814.18,1071.40 L1815.53,1074.35 L1816.87,1077.31 M1825.75,1099.25 L1826.85,1102.30 L1827.93,1105.36 L1828.97,1108.43 L1829.99,1111.51 L1830.98,1114.60 L1831.95,1117.69 L1832.89,1120.80 M1841.08,1152.50 L1841.77,1155.67 L1842.44,1158.84 L1843.09,1162.02 L1843.72,1165.20 L1844.33,1168.38 L1844.93,1171.57 L1845.50,1174.76 M1850.80,1210.17 L1851.19,1213.38 L1851.57,1216.60 L1851.94,1219.83 L1852.30,1223.05 L1852.65,1226.27 L1852.98,1229.50 L1853.31,1232.73 M1856.26,1268.40 L1856.48,1271.64 L1856.69,1274.87 L1856.90,1278.11 L1857.09,1281.35 L1857.28,1284.58 L1857.47,1287.82 L1857.65,1291.06 M1859.26,1326.82 L1859.38,1330.06 L1859.50,1333.30 L1859.61,1336.54 L1859.72,1339.79 L1859.82,1343.03 L1859.92,1346.27 L1860.02,1349.51 M1860.89,1385.30 L1860.96,1388.90 L1861.03,1392.51 L1861.10,1396.11 L1861.16,1399.72" stroke="#ff0000" stroke-width="5.8"/>
<path d="M280.00,224.18 L281.36,227.13 L282.72,230.07 L284.17,232.97 L285.66,235.85 L287.21,238.70 L288.82,241.51 L290.51,244.28 M305.95,264.33 L308.20,266.67 L310.51,268.94 L312.86,271.17 L315.26,273.35 L317.69,275.49 M336.31,289.95 L338.96,291.82 L341.61,293.68 L344.28,295.51 L346.97,297.33 L349.66,299.13 M369.54,311.81 L372.31,313.50 L375.08,315.19 L377.85,316.86 L380.63,318.52 L383.42,320.17 M403.87,331.91 L406.70,333.49 L409.54,335.06 L412.38,336.62 L415.22,338.17 L418.07,339.71 M438.93,350.71 L441.82,352.20 L444.70,353.67 L447.59,355.14 L450.48,356.60 L453.38,358.05 M474.55,368.44 L477.47,369.84 L480.39,371.24 L483.32,372.63 L486.25,374.02 L489.18,375.40 M510.59,385.30 L513.53,386.64 L516.49,387.98 L519.44,389.31 L522.39,390.64 L525.35,391.96 M546.93,401.49 L549.90,402.79 L552.87,404.08 L555.84,405.37 L558.81,406.65 L561.79,407.94 M583.48,417.19 L586.47,418.45 L589.45,419.71 L592.44,420.96 L595.43,422.22 L598.42,423.47 M620.20,432.52 L623.19,433.76 L626.19,434.99 L629.18,436.22 L632.18,437.46 L635.18,438.68 M657.01,447.60 L660.02,448.81 L663.02,450.03 L666.02,451.25 L669.02,452.46 L672.03,453.68 M693.91,462.49 L696.91,463.70 L699.92,464.90 L702.93,466.11 L705.93,467.31 L708.94,468.52 M730.85,477.26 L733.85,478.46 L736.87,479.66 L739.88,480.86 L742.89,482.06 L745.90,483.26 M767.82,491.96 L770.83,493.15 L773.84,494.35 L776.85,495.54 L779.86,496.74 L782.88,497.93 M804.81,506.61 L807.82,507.80 L810.83,508.99 L813.85,510.18 L816.86,511.37 L819.87,512.56 M841.81,521.23 L844.82,522.42 L847.83,523.61 L850.85,524.80 L853.86,525.99 L856.87,527.18 M878.81,535.85 L881.82,537.04 L884.84,538.23 L887.85,539.42 L890.86,540.61 L893.88,541.80 M915.81,550.47 L918.82,551.66 L921.84,552.86 L924.85,554.05 L927.86,555.24 L930.87,556.43 M952.80,565.11 L955.81,566.31 L958.83,567.50 L961.84,568.70 L964.85,569.89 L967.86,571.08 M989.78,579.79 L992.79,580.98 L995.80,582.18 L998.82,583.38 L1001.83,584.57 L1004.84,585.77 M1026.75,594.50 L1029.76,595.70 L1032.77,596.90 L1035.78,598.10 L1038.79,599.30 L1041.79,600.50 M1063.69,609.26 L1066.70,610.46 L1069.71,611.67 L1072.72,612.87 L1075.72,614.08 L1078.73,615.29 M1100.61,624.08 L1103.62,625.29 L1106.63,626.50 L1109.63,627.71 L1112.64,628.92 L1115.64,630.13 M1137.51,638.97 L1140.51,640.19 L1143.51,641.41 L1146.51,642.63 L1149.52,643.84 L1152.52,645.06 M1174.36,653.96 L1177.36,655.18 L1180.36,656.41 L1183.36,657.63 L1186.36,658.86 L1189.36,660.09 M1211.18,669.04 L1214.17,670.28 L1217.17,671.51 L1220.16,672.74 L1223.16,673.98 L1226.15,675.22 M1247.94,684.25 L1250.93,685.49 L1253.92,686.74 L1256.91,687.99 L1259.90,689.23 L1262.89,690.48 M1284.64,699.60 L1287.63,700.86 L1290.62,702.12 L1293.60,703.38 L1296.59,704.64 L1299.57,705.90 M1321.28,715.13 L1324.25,716.40 L1327.23,717.67 L1330.21,718.95 L1333.19,720.22 L1336.17,721.50 M1357.82,730.85 L1360.79,732.14 L1363.76,733.44 L1366.73,734.73 L1369.70,736.03 L1372.67,737.32 M1394.26,746.82 L1397.22,748.14 L1400.18,749.45 L1403.14,750.77 L1406.10,752.09 L1409.06,753.41 M1430.57,763.08 L1433.52,764.42 L1436.47,765.76 L1439.42,767.11 L1442.36,768.45 L1445.31,769.80 M1466.72,779.69 L1469.66,781.06 L1472.59,782.43 L1475.53,783.81 L1478.46,785.19 L1481.39,786.57 M1502.68,796.72 L1505.60,798.12 L1508.51,799.53 L1511.43,800.95 L1514.34,802.37 L1517.25,803.79 M1538.39,814.25 L1541.29,815.70 L1544.18,817.16 L1547.07,818.62 L1549.96,820.09 L1552.85,821.56 M1573.80,832.39 L1576.67,833.90 L1579.53,835.42 L1582.39,836.94 L1585.25,838.46 L1588.11,839.99 M1608.81,851.29 L1611.64,852.87 L1614.46,854.45 L1617.29,856.04 L1620.11,857.64 L1622.92,859.24 M1643.30,871.11 L1646.08,872.77 L1648.86,874.44 L1651.63,876.12 L1654.40,877.80 L1657.16,879.50 M1677.11,892.08 L1679.83,893.84 L1682.54,895.62 L1685.24,897.40 L1687.94,899.20 L1690.63,901.00 M1710.00,914.45 L1712.63,916.35 L1715.25,918.25 L1717.86,920.17 L1720.47,922.10 L1723.06,924.04 M1741.64,938.57 L1744.14,940.63 L1746.64,942.69 L1749.12,944.77 L1751.59,946.87 L1754.05,948.98 M1771.53,964.81 L1773.87,967.05 L1776.19,969.31 L1778.50,971.58 L1780.79,973.87 L1783.07,976.18 M1799.05,993.52 L1801.16,995.98 L1803.25,998.45 L1805.32,1000.94 L1807.37,1003.46 L1809.39,1005.99 M1823.40,1024.95 L1825.25,1027.67 L1827.07,1030.41 L1828.86,1033.16 L1830.63,1035.93 L1832.36,1038.73 L1834.08,1041.53 M1845.47,1062.17 L1846.93,1065.07 L1848.34,1067.99 L1849.74,1070.91 L1851.09,1073.86 L1852.43,1076.81 L1853.74,1079.78 L1855.01,1082.77 M1863.47,1104.78 L1864.52,1107.85 L1865.54,1110.92 L1866.53,1114.01 L1867.50,1117.10 L1868.45,1120.21 L1869.37,1123.31 L1870.26,1126.43 M1878.29,1159.55 L1878.93,1162.73 L1879.56,1165.91 L1880.16,1169.10 L1880.75,1172.29 L1881.32,1175.48 L1881.87,1178.67 L1882.41,1181.87 M1887.33,1217.33 L1887.70,1220.55 L1888.05,1223.78 L1888.39,1227.00 L1888.72,1230.23 L1889.04,1233.45 L1889.36,1236.68 L1889.66,1239.91 M1892.39,1275.60 L1892.59,1278.84 L1892.79,1282.08 L1892.98,1285.31 L1893.16,1288.55 L1893.34,1291.79 L1893.51,1295.03 L1893.67,1298.27 M1895.17,1334.04 L1895.28,1337.28 L1895.38,1340.52 L1895.48,1343.76 L1895.58,1347.00 L1895.68,1350.24 L1895.77,1353.48 L1895.86,1356.73 M1896.67,1392.52 L1896.73,1395.94 L1896.79,1399.37" stroke="#008000" stroke-width="5.8"/>
<path d="M280.00,283.31 L282.38,285.23 L284.77,287.11 L287.15,288.94 L289.53,290.73 L291.92,292.49 L294.30,294.21 L296.68,295.89 L299.07,297.54 L301.45,299.17 L303.83,300.76 L306.22,302.32 L308.60,303.86 L310.98,305.37 L313.37,306.86 L315.75,308.32 L318.14,309.77 L320.52,311.19 L322.90,312.60 L325.29,313.98 L327.67,315.35 L330.05,316.71 L332.44,318.05 L334.82,319.37 L337.20,320.69 L339.59,321.98 L341.97,323.27 L344.35,324.55 L346.74,325.81 L349.12,327.07 L351.50,328.31 L353.89,329.54 L356.27,330.77 L358.65,331.99 L361.04,333.20 L363.42,334.40 L365.80,335.60 L368.19,336.79 L370.57,337.97 L372.95,339.14 L375.34,340.32 L377.72,341.48 L380.11,342.64 L382.49,343.79 L384.87,344.94 L387.26,346.09 L389.64,347.23 L392.02,348.37 L394.41,349.50 L396.79,350.63 L399.17,351.75 L401.56,352.87 L403.94,353.99 L406.32,355.10 L408.71,356.22 L411.09,357.32 L413.47,358.43 L415.86,359.53 L418.24,360.63 L420.62,361.73 L423.01,362.82 L425.39,363.91 L427.77,365.00 L430.16,366.09 L432.54,367.18 L434.92,368.26 L437.31,369.34 L439.69,370.42 L442.08,371.50 L444.46,372.57 L446.84,373.65 L449.23,374.72 L451.61,375.79 L453.99,376.85 L456.38,377.92 L458.76,378.99 L461.14,380.05 L463.53,381.11 L465.91,382.17 L468.29,383.23 L470.68,384.29 L473.06,385.34 L475.44,386.40 L477.83,387.45 L480.21,388.50 L482.59,389.55 L484.98,390.60 L487.36,391.65 L489.74,392.70 L492.13,393.74 L494.51,394.79 L496.89,395.83 L499.28,396.87 L501.66,397.91 L504.05,398.95 L506.43,399.99 L508.81,401.03 L511.20,402.07 L513.58,403.10 L515.96,404.14 L518.35,405.17 L520.73,406.21 L523.11,407.24 L525.50,408.27 L527.88,409.30 L530.26,410.33 L532.65,411.36 L535.03,412.39 L537.41,413.42 L539.80,414.44 L542.18,415.47 L544.56,416.49 L546.95,417.52 L549.33,418.54 L551.71,419.57 L554.10,420.59 L556.48,421.61 L558.86,422.63 L561.25,423.65 L563.63,424.67 L566.01,425.69 L568.40,426.71 L570.78,427.73 L573.17,428.75 L575.55,429.76 L577.93,430.78 L580.32,431.79 L582.70,432.81 L585.08,433.82 L587.47,434.84 L589.85,435.85 L592.23,436.87 L594.62,437.88 L597.00,438.89 L599.38,439.90 L601.77,440.92 L604.15,441.93 L606.53,442.94 L608.92,443.95 L611.30,444.96 L613.68,445.97 L616.07,446.98 L618.45,447.98 L620.83,448.99 L623.22,450.00 L625.60,451.01 L627.98,452.02 L630.37,453.02 L632.75,454.03 L635.14,455.04 L637.52,456.04 L639.90,457.05 L642.29,458.06 L644.67,459.06 L647.05,460.07 L649.44,461.07 L651.82,462.08 L654.20,463.08 L656.59,464.09 L658.97,465.09 L661.35,466.09 L663.74,467.10 L666.12,468.10 L668.50,469.11 L670.89,470.11 L673.27,471.11 L675.65,472.12 L678.04,473.12 L680.42,474.12 L682.80,475.13 L685.19,476.13 L687.57,477.13 L689.95,478.13 L692.34,479.14 L694.72,480.14 L697.11,481.14 L699.49,482.14 L701.87,483.15 L704.26,484.15 L706.64,485.15 L709.02,486.15 L711.41,487.16 L713.79,488.16 L716.17,489.16 L718.56,490.16 L720.94,491.17 L723.32,492.17 L725.71,493.17 L728.09,494.18 L730.47,495.18 L732.86,496.18 L735.24,497.18 L737.62,498.19 L740.01,499.19 L742.39,500.19 L744.77,501.20 L747.16,502.20 L749.54,503.20 L751.92,504.21 L754.31,505.21 L756.69,506.22 L759.08,507.22 L761.46,508.23 L763.84,509.23 L766.23,510.24 L768.61,511.24 L770.99,512.25 L773.38,513.25 L775.76,514.26 L778.14,515.26 L780.53,516.27 L782.91,517.28 L785.29,518.28 L787.68,519.29 L790.06,520.30 L792.44,521.31 L794.83,522.32 L797.21,523.32 L799.59,524.33 L801.98,525.34 L804.36,526.35 L806.74,527.36 L809.13,528.37 L811.51,529.38 L813.89,530.39 L816.28,531.40 L818.66,532.42 L821.04,533.43 L823.43,534.44 L825.81,535.45 L828.20,536.47 L830.58,537.48 L832.96,538.49 L835.35,539.51 L837.73,540.52 L840.11,541.54 L842.50,542.56 L844.88,543.57 L847.26,544.59 L849.65,545.61 L852.03,546.62 L854.41,547.64 L856.80,548.66 L859.18,549.68 L861.56,550.70 L863.95,551.72 L866.33,552.74 L868.71,553.77 L871.10,554.79 L873.48,555.81 L875.86,556.84 L878.25,557.86 L880.63,558.89 L883.01,559.91 L885.40,560.94 L887.78,561.97 L890.17,562.99 L892.55,564.02 L894.93,565.05 L897.32,566.08 L899.70,567.11 L902.08,568.14 L904.47,569.18 L906.85,570.21 L909.23,571.24 L911.62,572.28 L914.00,573.31 L916.38,574.35 L918.77,575.39 L921.15,576.42 L923.53,577.46 L925.92,578.50 L928.30,579.54 L930.68,580.58 L933.07,581.63 L935.45,582.67 L937.83,583.71 L940.22,584.76 L942.60,585.80 L944.98,586.85 L947.37,587.90 L949.75,588.95 L952.14,590.00 L954.52,591.05 L956.90,592.10 L959.29,593.15 L961.67,594.21 L964.05,595.26 L966.44,596.32 L968.82,597.38 L971.20,598.44 L973.59,599.50 L975.97,600.56 L978.35,601.62 L980.74,602.68 L983.12,603.75 L985.50,604.81 L987.89,605.88 L990.27,606.95 L992.65,608.02 L995.04,609.09 L997.42,610.16 L999.80,611.24 L1002.19,612.31 L1004.57,613.39 L1006.95,614.46 L1009.34,615.54 L1011.72,616.62 L1014.11,617.71 L1016.49,618.79 L1018.87,619.88 L1021.26,620.96 L1023.64,622.05 L1026.02,623.14 L1028.41,624.23 L1030.79,625.32 L1033.17,626.42 L1035.56,627.51 L1037.94,628.61 L1040.32,629.71 L1042.71,630.81 L1045.09,631.92 L1047.47,633.02 L1049.86,634.13 L1052.24,635.24 L1054.62,636.35 L1057.01,637.46 L1059.39,638.57 L1061.77,639.69 L1064.16,640.81 L1066.54,641.93 L1068.92,643.05 L1071.31,644.18 L1073.69,645.30 L1076.07,646.43 L1078.46,647.56 L1080.84,648.69 L1083.23,649.83 L1085.61,650.97 L1087.99,652.10 L1090.38,653.25 L1092.76,654.39 L1095.14,655.54 L1097.53,656.69 L1099.91,657.84 L1102.29,658.99 L1104.68,660.15 L1107.06,661.31 L1109.44,662.47 L1111.83,663.63 L1114.21,664.80 L1116.59,665.97 L1118.98,667.14 L1121.36,668.32 L1123.74,669.49 L1126.13,670.67 L1128.51,671.86 L1130.89,673.04 L1133.28,674.23 L1135.66,675.43 L1138.04,676.62 L1140.43,677.82 L1142.81,679.02 L1145.20,680.23 L1147.58,681.44 L1149.96,682.65 L1152.35,683.87 L1154.73,685.09 L1157.11,686.31 L1159.50,687.53 L1161.88,688.76 L1164.26,690.00 L1166.65,691.23 L1169.03,692.48 L1171.41,693.72 L1173.80,694.97 L1176.18,696.22 L1178.56,697.48 L1180.95,698.74 L1183.33,700.01 L1185.71,701.28 L1188.10,702.55 L1190.48,703.83 L1192.86,705.11 L1195.25,706.40 L1197.63,707.69 L1200.01,708.99 L1202.40,710.29 L1204.78,711.60 L1207.17,712.91 L1209.55,714.23 L1211.93,715.55 L1214.32,716.88 L1216.70,718.21 L1219.08,719.55 L1221.47,720.90 L1223.85,722.25 L1226.23,723.60 L1228.62,724.97 L1231.00,726.33 L1233.38,727.71 L1235.77,729.09 L1238.15,730.48 L1240.53,731.87 L1242.92,733.27 L1245.30,734.68 L1247.68,736.09 L1250.07,737.51 L1252.45,738.94 L1254.83,740.38 L1257.22,741.82 L1259.60,743.27 L1261.98,744.73 L1264.37,746.20 L1266.75,747.67 L1269.14,749.16 L1271.52,750.65 L1273.90,752.15 L1276.29,753.66 L1278.67,755.18 L1281.05,756.71 L1283.44,758.24 L1285.82,759.79 L1288.20,761.35 L1290.59,762.92 L1292.97,764.50 L1295.35,766.08 L1297.74,767.69 L1300.12,769.30 L1302.50,770.92 L1304.89,772.55 L1307.27,774.20 L1309.65,775.86 L1312.04,777.53 L1314.42,779.22 L1316.80,780.92 L1319.19,782.63 L1321.57,784.36 L1323.95,786.10 L1326.34,787.85 L1328.72,789.62 L1331.11,791.41 L1333.49,793.21 L1335.87,795.03 L1338.26,796.87 L1340.64,798.73 L1343.02,800.60 L1345.41,802.49 L1347.79,804.40 L1350.17,806.33 L1352.56,808.29 L1354.94,810.26 L1357.32,812.25 L1359.71,814.27 L1362.09,816.31 L1364.47,818.38 L1366.86,820.47 L1369.24,822.58 L1371.62,824.72 L1374.01,826.89 L1376.39,829.09 L1378.77,831.32 L1381.16,833.58 L1383.54,835.88 L1385.92,838.20 L1388.31,840.56 L1390.69,842.96 L1393.07,845.39 L1395.46,847.87 L1397.84,850.38 L1400.23,852.94 L1402.61,855.54 L1404.99,858.20 L1407.38,860.89 L1409.76,863.65 L1412.14,866.45 L1414.53,869.31 L1416.91,872.23 L1419.29,875.22 L1421.68,878.27 L1424.06,881.39 L1426.44,884.59 L1428.83,887.86 L1431.21,891.22 L1433.59,894.67 L1435.98,898.21 L1438.36,901.86 L1440.74,905.61 L1443.13,909.48 L1445.51,913.47 L1447.89,917.60 L1450.28,921.87 L1452.66,926.30 L1455.04,930.90 L1457.43,935.69 L1459.81,940.69 L1462.20,945.91 L1464.58,951.38 L1466.96,957.13 L1469.35,963.19 L1469.35,963.19 L1470.76,966.95 L1472.12,970.69 L1473.43,974.43 L1474.70,978.16 L1475.92,981.87 L1477.09,985.58 L1478.23,989.28 L1479.32,992.97 L1480.37,996.65 L1481.38,1000.33 L1482.36,1003.99 L1483.30,1007.65 L1484.21,1011.30 L1485.09,1014.95 L1485.93,1018.59 L1486.74,1022.22 L1487.52,1025.85 L1488.28,1029.47 L1489.01,1033.09 L1489.71,1036.70 L1490.38,1040.30 L1491.03,1043.90 L1491.66,1047.50 L1492.27,1051.09 L1492.85,1054.67 L1493.41,1058.25 L1493.95,1061.83 L1494.47,1065.41 L1494.98,1068.98 L1495.46,1072.54 L1495.93,1076.11 L1496.38,1079.66 L1496.81,1083.22 L1497.23,1086.77 L1497.63,1090.32 L1498.02,1093.87 L1498.39,1097.41 L1498.75,1100.96 L1499.10,1104.49 L1499.44,1108.03 L1499.76,1111.56 L1500.07,1115.10 L1500.37,1118.62 L1500.66,1122.15 L1500.94,1125.68 L1501.21,1129.20 L1501.47,1132.72 L1501.72,1136.24 L1501.96,1139.76 L1502.19,1143.27 L1502.41,1146.79 L1502.63,1150.30 L1502.83,1153.81 L1503.03,1157.32 L1503.23,1160.83 L1503.41,1164.33 L1503.59,1167.84 L1503.76,1171.34 L1503.93,1174.84 L1504.09,1178.34 L1504.24,1181.84 L1504.39,1185.34 L1504.53,1188.84 L1504.67,1192.34 L1504.81,1195.83 L1504.93,1199.33 L1505.06,1202.82 L1505.18,1206.31 L1505.29,1209.81 L1505.40,1213.30 L1505.51,1216.79 L1505.61,1220.28 L1505.71,1223.77 L1505.81,1227.26 L1505.90,1230.74 L1505.99,1234.23 L1506.07,1237.72 L1506.15,1241.20 L1506.23,1244.69 L1506.31,1248.17 L1506.38,1251.66 L1506.46,1255.14 L1506.52,1258.62 L1506.59,1262.11 L1506.65,1265.59 L1506.72,1269.07 L1506.77,1272.55 L1506.83,1276.03 L1506.89,1279.51 L1506.94,1282.99 L1506.99,1286.47 L1507.04,1289.95 L1507.09,1293.43 L1507.13,1296.91 L1507.18,1300.38 L1507.22,1303.86 L1507.26,1307.34 L1507.30,1310.82 L1507.34,1314.29 L1507.37,1317.77 L1507.41,1321.25 L1507.44,1324.72 L1507.48,1328.20 L1507.51,1331.67 L1507.54,1335.15 L1507.57,1338.62 L1507.59,1342.10 L1507.62,1345.57 L1507.65,1349.05 L1507.67,1352.52 L1507.70,1356.00 L1507.72,1359.47 L1507.74,1362.94 L1507.77,1366.42 L1507.79,1369.89 L1507.81,1373.37 L1507.83,1376.84 L1507.85,1380.31 L1507.86,1383.78 L1507.88,1387.26 L1507.90,1390.73 L1507.91,1394.20 L1507.93,1397.68 L1507.94,1401.15" stroke="#008000" stroke-width="8.8"/>
</g>
<line x1="366.0" y1="842.9" x2="502.2" y2="842.9" stroke="#0000ff" stroke-width="6" stroke-linecap="round"/>
<text x="516" y="865.0" font-size="62.0">g<tspan font-size="41.7" dy="15.3">N</tspan><tspan dy="-15.3"> = 1;</tspan><tspan dx="-3.1"> g</tspan><tspan font-size="41.7" dy="15.3">D</tspan><tspan dy="-15.3" dx="-1"> = </tspan><tspan dx="-1.4">1</tspan></text>
<line x1="366.8" y1="931.6" x2="502.2" y2="931.6" stroke="#0000ff" stroke-width="6" stroke-linecap="round" stroke-dasharray="24 35.2"/>
<text x="516" y="953.7" font-size="62.0">g<tspan font-size="41.7" dy="15.3">N</tspan><tspan dy="-15.3"> = 2;</tspan><tspan dx="-3.1"> g</tspan><tspan font-size="41.7" dy="15.3">D</tspan><tspan dy="-15.3" dx="-1"> = </tspan><tspan dx="-1.4">1</tspan></text>
<line x1="366.0" y1="1020.3" x2="502.2" y2="1020.3" stroke="#ff0000" stroke-width="6" stroke-linecap="round"/>
<text x="516" y="1042.4" font-size="62.0">g<tspan font-size="41.7" dy="15.3">N</tspan><tspan dy="-15.3"> = 1;</tspan><tspan dx="-3.1"> g</tspan><tspan font-size="41.7" dy="15.3">D</tspan><tspan dy="-15.3" dx="-1"> = </tspan><tspan dx="-1.4">5</tspan></text>
<line x1="366.8" y1="1109.0" x2="502.2" y2="1109.0" stroke="#ff0000" stroke-width="6" stroke-linecap="round" stroke-dasharray="24 35.2"/>
<text x="516" y="1131.1" font-size="62.0">g<tspan font-size="41.7" dy="15.3">N</tspan><tspan dy="-15.3"> = 2;</tspan><tspan dx="-3.1"> g</tspan><tspan font-size="41.7" dy="15.3">D</tspan><tspan dy="-15.3" dx="-1"> = </tspan><tspan dx="-1.4">5</tspan></text>
<line x1="366.8" y1="1197.7" x2="502.2" y2="1197.7" stroke="#008000" stroke-width="6" stroke-linecap="round" stroke-dasharray="24 35.2"/>
<text x="516" y="1219.8" font-size="62.0">g<tspan font-size="41.7" dy="15.3">N</tspan><tspan dy="-15.3"> = 1;</tspan><tspan dx="-3.1"> g</tspan><tspan font-size="41.7" dy="15.3">D</tspan><tspan dy="-15.3" dx="-1"> = </tspan><tspan dx="-1.4">20</tspan></text>
<line x1="366.8" y1="1286.4" x2="501.4" y2="1286.4" stroke="#008000" stroke-width="8.8" stroke-linecap="round"/>
<text x="516" y="1308.5" font-size="62.0">g<tspan font-size="41.7" dy="15.3">N</tspan><tspan dy="-15.3"> = 2;</tspan><tspan dx="-3.1"> g</tspan><tspan font-size="41.7" dy="15.3">D</tspan><tspan dy="-15.3" dx="-1"> = </tspan><tspan dx="-1.4">20</tspan></text>
</svg>
</body></html>
